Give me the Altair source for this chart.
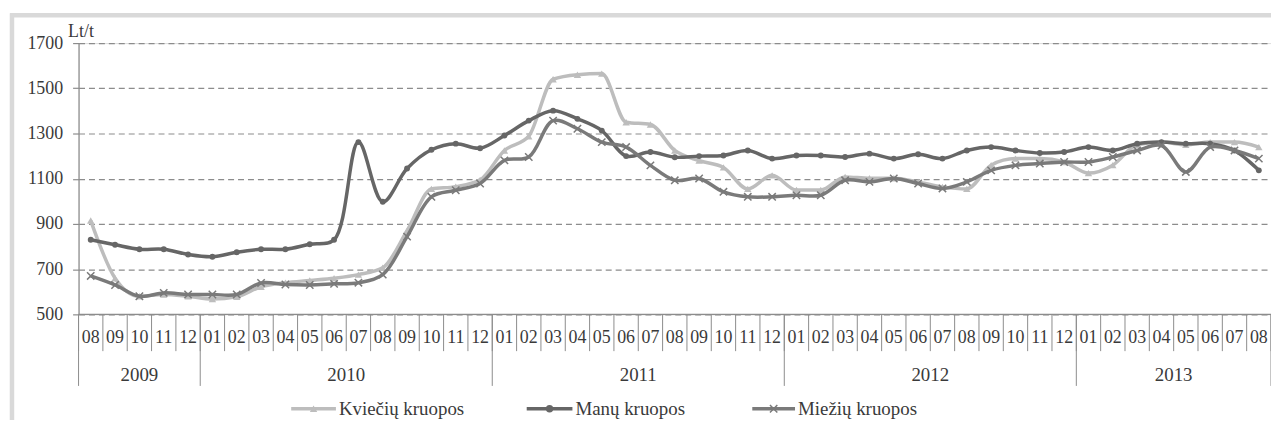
import altair as alt
import pandas as pd

# ---------------- data ----------------
months = (["08", "09", "10", "11", "12"]
          + [f"{m:02d}" for m in range(1, 13)] * 3
          + [f"{m:02d}" for m in range(1, 9)])
years = ["2009", "2010", "2011", "2012", "2013"]
year_months = [5, 12, 12, 12, 8]

series_names = ["Kviečių kruopos", "Manų kruopos", "Miežių kruopos"]

kvieciu = [915, 660, 580, 588, 580, 568, 578, 622, 640, 650, 660, 676, 706,
           870, 1055, 1065, 1095, 1225, 1288, 1540, 1560, 1565, 1350, 1340,
           1225, 1180, 1150, 1055, 1115, 1050, 1050, 1108, 1102, 1102, 1086,
           1064, 1055, 1160, 1189, 1189, 1174, 1125, 1160, 1250, 1262, 1250,
           1262, 1262, 1240]

manu = [830, 808, 788, 788, 765, 755, 775, 788, 788, 810, 830, 1262, 998,
        1145, 1228, 1255, 1235, 1291, 1357, 1401, 1365, 1313, 1200, 1218,
        1195, 1200, 1203, 1225, 1189, 1203, 1203, 1196, 1211, 1189, 1208,
        1189, 1225, 1240, 1225, 1214, 1218, 1240, 1225, 1255, 1262, 1255,
        1255, 1225, 1137]

miezių = [670, 630, 580, 595, 588, 588, 588, 639, 632, 630, 635, 640, 676,
          844, 1020, 1049, 1079, 1181, 1196, 1357, 1321, 1262, 1240, 1159,
          1093, 1101, 1042, 1020, 1020, 1027, 1027, 1093, 1086, 1101, 1079,
          1057, 1086, 1137, 1159, 1167, 1174, 1174, 1196, 1225, 1247, 1130,
          1240, 1225, 1189]

y_ticks = [500, 700, 900, 1100, 1300, 1500, 1700]

# ---------------- layout / style ----------------
W, H = 1200, 273
FONT = "'Liberation Serif', 'Times New Roman', 'DejaVu Serif', serif"
TXT = "#3a3a3a"
AX = "#8c8c8c"
C_KV, C_MA, C_MI = "#bdbdbd", "#666666", "#7a7a7a"
XSHAPE = "M-1,-1L1,1M-1,1L1,-1"

n = len(months)
xscale = alt.Scale(domain=[0, n], nice=False, zero=False)
yscale = alt.Scale(domain=[500, 1700], nice=False, zero=False)

yaxis = alt.Axis(values=y_ticks, format="d", grid=True, gridDash=[6, 4],
                 gridColor=AX, gridWidth=1.2, domainColor=AX, domainWidth=1.2,
                 tickColor=AX, tickSize=6, tickWidth=1.2,
                 labelFont=FONT, labelFontSize=18, labelColor=TXT,
                 labelPadding=10,
                 title="Lt/t", titleAngle=0, titleX=-11, titleY=-12,
                 titleAlign="left", titleBaseline="middle", titleFont=FONT,
                 titleFontSize=18, titleFontWeight="normal", titleColor=TXT)

def sdf(vals):
    return pd.DataFrame({"x": [i + 0.5 for i in range(n)], "v": vals})

X = alt.X("x:Q", scale=xscale, axis=None)
Y = alt.Y("v:Q", scale=yscale, axis=yaxis)

# gridlines / axis via an invisible base layer
base = alt.Chart(sdf(manu)).mark_line(opacity=0).encode(x=X, y=Y)

bottom_line = alt.Chart(pd.DataFrame({"a": [0]})).mark_rule(
    color=AX, strokeWidth=1.4).encode(
    y=alt.datum(500, scale=yscale), x=alt.value(0), x2=alt.value(W))

def series(vals, color, interp, shape, size, filled):
    d = sdf(vals)
    line = alt.Chart(d).mark_line(color=color, strokeWidth=3.5,
                                  interpolate=interp).encode(x=X, y=Y)
    pt = alt.Chart(d).mark_point(shape=shape, size=size, filled=filled,
                                 color=color, opacity=1,
                                 strokeWidth=1.5).encode(x=X, y=Y)
    return line + pt

kv = series(kvieciu, C_KV, "monotone", "triangle-up", 55, True)
ma = series(manu, C_MA, "catmull-rom", "circle", 35, True)
mi = series(miezių, C_MI, "catmull-rom", XSHAPE, 55, False)

# x axis: month labels, separators, year labels
mdf = pd.DataFrame({"x": [i + 0.5 for i in range(n)], "m": months})
month_text = alt.Chart(mdf).mark_text(font=FONT, fontSize=18, color=TXT,
                                      baseline="middle").encode(
    x=X, y=alt.value(H + 24), text="m:N")

sep_df = pd.DataFrame({"x": list(range(n + 1))})
month_sep = alt.Chart(sep_df).mark_rule(color=AX, strokeWidth=1).encode(
    x=X, y=alt.value(H), y2=alt.value(H + 37))

bounds = [0]
for k in year_months:
    bounds.append(bounds[-1] + k)
ydf = pd.DataFrame({"x": [(bounds[i] + bounds[i + 1]) / 2 for i in range(len(years))],
                    "yr": years})
year_text = alt.Chart(ydf).mark_text(font=FONT, fontSize=19, color=TXT,
                                     baseline="middle").encode(
    x=X, y=alt.value(H + 61), text="yr:N")
ysep = alt.Chart(pd.DataFrame({"x": bounds})).mark_rule(
    color=AX, strokeWidth=1).encode(x=X, y=alt.value(H), y2=alt.value(H + 72))

# frame
one = pd.DataFrame({"a": [0]})
frame_left = alt.Chart(one).mark_rule(color="#d9d9d9", strokeWidth=4.5).encode(
    x=alt.value(-67), y=alt.value(-30), y2=alt.value(H + 110))
frame_top = alt.Chart(one).mark_rule(color="#d9d9d9", strokeWidth=4.5).encode(
    y=alt.value(-28), x=alt.value(-69), x2=alt.value(W + 10))

# legend (manual, Excel style: line + marker)
LY = H + 95
leg = []
leg_spec = [
    (series_names[0], C_KV, "triangle-up", True, 214, 259),
    (series_names[1], C_MA, "circle", True, 451, 497),
    (series_names[2], C_MI, XSHAPE, False, 678, 721),
]
for name, col, shp, fil, x1, x2 in leg_spec:
    leg.append(alt.Chart(one).mark_rule(color=col, strokeWidth=3.5).encode(
        x=alt.value(x1), x2=alt.value(x2), y=alt.value(LY)))
    leg.append(alt.Chart(one).mark_point(shape=shp, size=55, filled=fil,
                                         color=col, opacity=1,
                                         strokeWidth=1.5).encode(
        x=alt.value((x1 + x2) / 2), y=alt.value(LY)))
    leg.append(alt.Chart(pd.DataFrame({"t": [name]})).mark_text(
        font=FONT, fontSize=19, color=TXT, align="left",
        baseline="middle").encode(
        x=alt.value(x2 + 3), y=alt.value(LY), text="t:N"))

chart = alt.layer(
    frame_left, frame_top, base, bottom_line, month_sep, ysep,
    month_text, year_text, kv, ma, mi, *leg
).properties(
    width=W, height=H,
    autosize=alt.AutoSizeParams(type="none"),
    padding={"left": 71, "top": 34, "right": 0, "bottom": 105},
).configure_view(stroke=None).configure(background="white")

chart.save("out.html", embed_options={"renderer": "svg", "actions": False})
